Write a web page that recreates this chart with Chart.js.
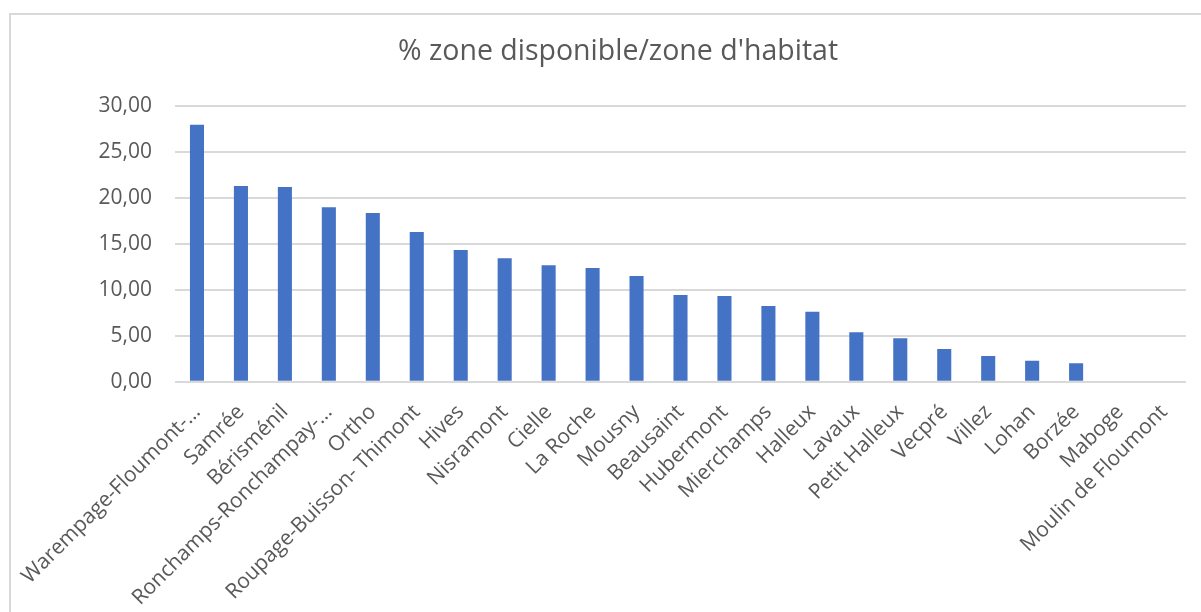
<!DOCTYPE html>
<html>
<head>
<meta charset="utf-8">
<script src="https://cdn.jsdelivr.net/npm/chart.js@4/dist/chart.umd.min.js"></script>
<style>
  html, body { margin: 0; padding: 0; background: #fff; }
  #wrap { width: 1201px; height: 612px; }
</style>
</head>
<body>
<div id="wrap"><canvas id="chart" width="1201" height="612"></canvas></div>
<script>
// villages, sorted as in the sheet
const villages = [
  'Warempage-Floumont-…', 'Samrée', 'Bérisménil', 'Ronchamps-Ronchampay-…', 'Ortho',
  'Roupage-Buisson- Thimont', 'Hives', 'Nisramont', 'Cielle', 'La Roche', 'Mousny',
  'Beausaint', 'Hubermont', 'Mierchamps', 'Halleux', 'Lavaux', 'Petit Halleux',
  'Vecpré', 'Villez', 'Lohan', 'Borzée', 'Maboge', 'Moulin de Floumont'
];
const pctDispo = [
  27.93, 21.27, 21.16, 18.96, 18.34, 16.27, 14.32, 13.41, 12.65, 12.36, 11.49,
  9.42, 9.31, 8.23, 7.61, 5.37, 4.72, 3.55, 2.79, 2.28, 2.0, 0, 0
];
const yTicks = [0, 5, 10, 15, 20, 25, 30];

const grey = '#595959';
const font = 'Open Sans';

// the light frame Excel draws around the chart
const frame = {
  id: 'frame',
  beforeDraw(chart) {
    const ctx = chart.ctx;
    ctx.save();
    ctx.fillStyle = '#fff';
    ctx.fillRect(0, 0, chart.width, chart.height);
    ctx.strokeStyle = '#d9d9d9';
    ctx.lineWidth = 2;
    ctx.beginPath();
    ctx.moveTo(10, chart.height);
    ctx.lineTo(10, 14);
    ctx.lineTo(chart.width, 14);
    ctx.stroke();
    ctx.restore();
  }
};

new Chart(document.getElementById('chart'), {
  type: 'bar',
  data: {
    labels: villages,
    datasets: [{
      data: pctDispo,
      backgroundColor: '#4472C4',
      barPercentage: 0.32,
      categoryPercentage: 1
    }]
  },
  plugins: [frame],
  options: {
    responsive: false,
    animation: false,
    layout: { padding: { left: 50, right: 15, top: 0, bottom: 0 } },
    plugins: {
      legend: { display: false },
      tooltip: { enabled: false },
      title: {
        display: true,
        text: "% zone disponible/zone d'habitat",
        color: grey,
        font: { family: font, size: 28.5, weight: 'normal', lineHeight: 1.2 },
        padding: { top: 35, bottom: 36.5 }
      }
    },
    scales: {
      x: {
        grid: { display: false },
        border: { display: false },
        ticks: {
          color: grey,
          font: { family: font, size: 21 },
          minRotation: 45,
          maxRotation: 45,
          autoSkip: false,
          padding: 10
        },
        afterFit(axis) { axis.height = 612 - 381.7; }
      },
      y: {
        min: 0,
        max: 30,
        afterBuildTicks(axis) { axis.ticks = yTicks.map(v => ({ value: v })); },
        grid: { color: '#d9d9d9', lineWidth: 2, drawTicks: false },
        border: { display: false },
        ticks: {
          color: grey,
          font: { family: font, size: 21 },
          padding: 23,
          callback: v => v.toFixed(2).replace('.', ',')
        },
        afterFit(axis) { axis.width = 175 - 50; }
      }
    }
  }
});
</script>
</body>
</html>
